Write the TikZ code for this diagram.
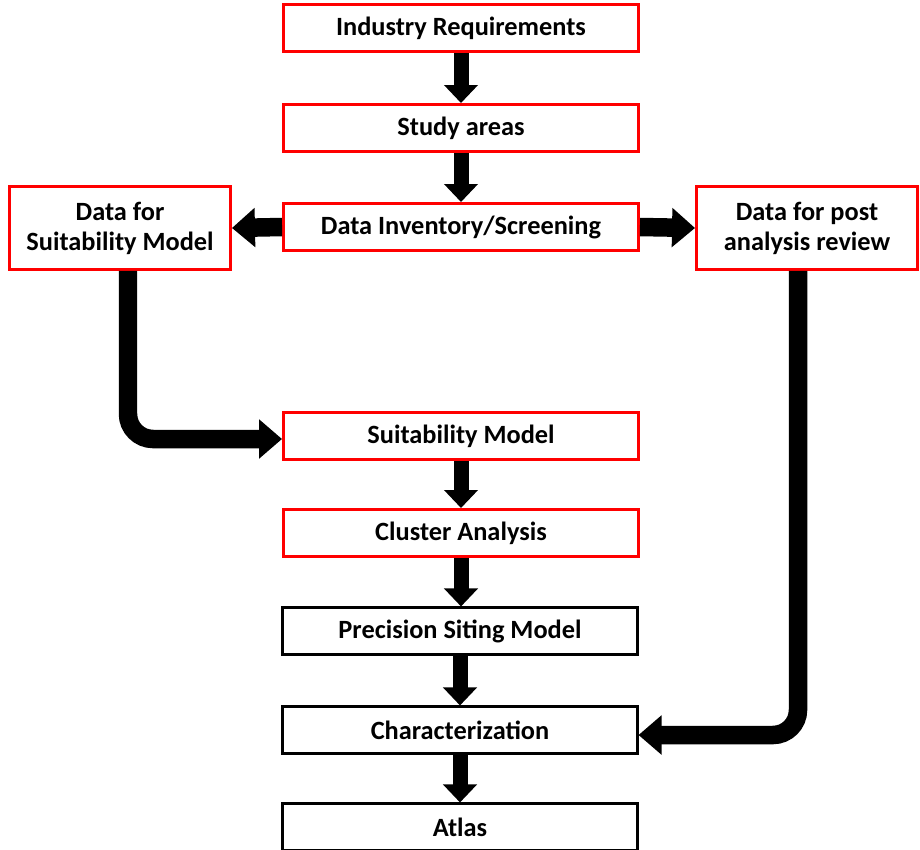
\documentclass[tikz,border=0pt]{standalone}
\usepackage{fontspec}
\setmainfont{Carlito}
\usetikzlibrary{arrows.meta, positioning, calc}
\definecolor{flowred}{rgb}{1, 0, 0}

\begin{document}
\begin{tikzpicture}[x=0.02cm, y=-0.02cm,
        redbox/.style={draw=flowred, line width=1.7pt, fill=white, minimum width=7.1cm, minimum height=0.94cm, inner sep=0pt, align=center, font=\fontsize{15}{17}\selectfont\bfseries},
        blackbox/.style={redbox, draw=black, line width=1.2pt},
        sidebox/.style={redbox, minimum width=4.42cm, minimum height=1.66cm},
        flow/.style={line width=0.3cm, -{Triangle[width=0.66cm, length=0.36cm]}},
        bigflow/.style={line width=0.37cm, -{Triangle[width=0.76cm, length=0.46cm]}, rounded corners=0.5cm}]
        \useasboundingbox (0, 0) rectangle (920, 849);

        \node[redbox] (Req) at (461, 28) {Industry Requirements};
        \node[redbox] (Study) at (461, 128) {Study areas};
        \node[redbox] (Inv) at (461, 227) {Data Inventory/Screening};
        \node[sidebox] (DSuit) at (120, 228) {Data for\\Suitability Model};
        \node[sidebox] (DPost) at (807, 228) {Data for post\\analysis review};
        \node[redbox] (Suit) at (461, 436) {Suitability Model};
        \node[redbox] (Clus) at (461, 533) {Cluster Analysis};
        \node[blackbox] (Prec) at (460, 631) {Precision Siting Model};
        \node[blackbox] (Char) at (460, 730) {Characterization};
        \node[blackbox] (Atlas) at (460, 827) {Atlas};

        \draw [flow] (Req) -- (Study);
        \draw [flow] (Study) -- (Inv);
        \draw [flow] (Suit) -- (Clus);
        \draw [flow] (Clus.south) -- (Clus.south |- Prec.north);
        \draw [flow] (Prec) -- (Char);
        \draw [flow] (Char) -- (Atlas);

        \draw [bigflow] (Inv.west) -- (DSuit.east);
        \draw [bigflow] (Inv.east) -- (DPost.west);
        \draw [bigflow] ([xshift=0.16cm]DSuit.south) |- ([yshift=-0.06cm]Suit.west);
        \draw [bigflow] ([xshift=-0.18cm]DPost.south) |- ([yshift=-0.1cm]Char.east);

    \end{tikzpicture}
\end{document}
